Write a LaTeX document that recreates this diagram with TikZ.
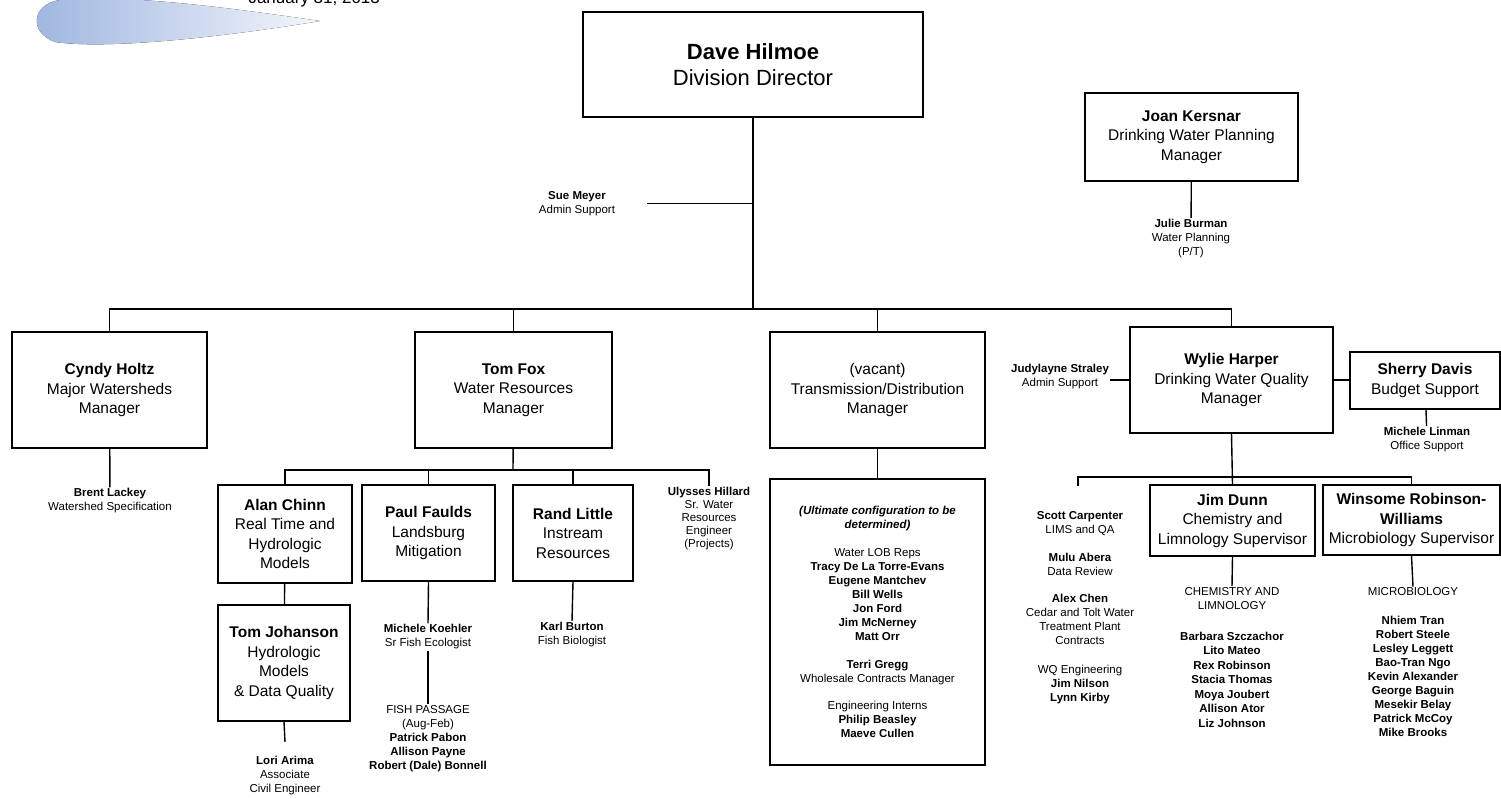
\documentclass[tikz,border=0pt]{standalone}
\usepackage{fontspec}
\setmainfont{Liberation Sans}
\usepackage{tikz}
\definecolor{swooshblue}{HTML}{9DB5DF}
\tikzset{orgbox/.style={draw, line width=1.4pt, align=center, inner sep=0pt, font=\fontsize{15.5}{19.5}\selectfont},
  headbox/.style={orgbox, font=\fontsize{22}{26}\selectfont},
  staff/.style={align=center, inner sep=1pt, font=\fontsize{11.5}{14}\selectfont},
  link/.style={line width=1.4pt}}

\begin{document}
\begin{tikzpicture}[x=1pt, y=-1pt]
    \useasboundingbox (0,0) rectangle (1501,799);
    \fill [left color=swooshblue, right color=swooshblue!12] (320,21) .. controls (230,8) and (130,-6) .. (60,0) .. controls (32,4) and (28,32) .. (55,42) .. controls (110,50) and (230,36) .. (320,21);
    \node [anchor=base west, font=\fontsize{17}{20}\selectfont] (date) at (245,4) {January 31, 2013};
    \node [headbox, minimum width=340, minimum height=105] (dave) at (753,64.5) {\textbf{Dave Hilmoe}\\ Division Director};
    \node [orgbox, minimum width=213, minimum height=88] (joan) at (1191.5,137) {\textbf{Joan Kersnar}\\ Drinking Water Planning\\ Manager};
    \node [staff] (julie) at (1191,238.5) {\textbf{Julie Burman}\\ Water Planning\\ (P/T)};
    \node [staff] (sue) at (577,203.5) {\textbf{Sue Meyer}\\ Admin Support};
    \coordinate (suetick) at (647,203.5);
    \coordinate (mainbus) at (753,309);
    \node [orgbox, minimum width=195, minimum height=116] (cyndy) at (109.5,390) {\textbf{Cyndy Holtz}\\ Major Watersheds\\ Manager};
    \node [orgbox, minimum width=197, minimum height=116] (tomfox) at (513.5,390) {\textbf{Tom Fox}\\ Water Resources\\ Manager};
    \node [orgbox, minimum width=215, minimum height=116] (vacant) at (877.5,390) {(vacant)\\ Transmission/Distribution\\ Manager};
    \node [orgbox, minimum width=203, minimum height=106] (wylie) at (1231.5,380) {\textbf{Wylie Harper}\\ Drinking Water Quality\\ Manager};
    \node [orgbox, minimum width=150, minimum height=57] (sherry) at (1425,380.5) {\textbf{Sherry Davis}\\ Budget Support};
    \node [staff] (judy) at (1060,377) {\textbf{Judylayne Straley}\\ Admin Support};
    \node [staff] (linman) at (1427,439.5) {\textbf{Michele Linman}\\ Office Support};
    \node [staff] (brent) at (110,501) {\textbf{Brent Lackey}\\ Watershed Specification};
    \coordinate (foxbus) at (513,470);
    \node [orgbox, minimum width=134, minimum height=98] (alan) at (285,534) {\textbf{Alan Chinn}\\ Real Time and\\ Hydrologic\\ Models};
    \node [orgbox, minimum width=133, minimum height=96] (paul) at (428.5,533) {\textbf{Paul Faulds}\\ Landsburg\\ Mitigation};
    \node [orgbox, minimum width=120, minimum height=96] (rand) at (573,533) {\textbf{Rand Little}\\ Instream\\ Resources};
    \node [staff, font=\fontsize{11.5}{13}\selectfont] (ulysses) at (709,519) {\textbf{Ulysses Hillard}\\ Sr. Water\\ Resources\\ Engineer\\ (Projects)};
    \node [orgbox, minimum width=132, minimum height=116] (tomj) at (284,663) {\textbf{Tom Johanson}\\ Hydrologic\\ Models\\ \& Data Quality};
    \coordinate (loritick) at (285,742);
    \node [staff] (lori) at (285,776) {\textbf{Lori Arima}\\ Associate\\ Civil Engineer};
    \node [staff] (koehler) at (428,637) {\textbf{Michele Koehler}\\ Sr Fish Ecologist};
    \node [staff] (fish) at (428,738.5) {FISH PASSAGE\\ (Aug-Feb)\\ \textbf{Patrick Pabon}\\ \textbf{Allison Payne}\\ \textbf{Robert (Dale) Bonnell}};
    \node [staff] (karl) at (572,634.5) {\textbf{Karl Burton}\\ Fish Biologist};
    \node [orgbox, staff, draw, line width=1.4pt, minimum width=215, minimum height=286] (vacteam) at (877.5,622) {\textbf{\textit{(Ultimate configuration to be}}\\ \textbf{\textit{determined)}}\\[14pt] Water LOB Reps\\ \textbf{Tracy De La Torre-Evans}\\ \textbf{Eugene Mantchev}\\ \textbf{Bill Wells}\\ \textbf{Jon Ford}\\ \textbf{Jim McNerney}\\ \textbf{Matt Orr}\\[14pt] \textbf{Terri Gregg}\\ Wholesale Contracts Manager\\[13pt] Engineering Interns\\ \textbf{Philip Beasley}\\ \textbf{Maeve Cullen}};
    \coordinate (wqbus) at (1232,477);
    \coordinate (scottstub) at (1078,486);
    \node [staff] (scott) at (1080,608) {\textbf{Scott Carpenter}\\ LIMS and QA\\[14pt] \textbf{Mulu Abera}\\ Data Review\\[13pt] \textbf{Alex Chen}\\ Cedar and Tolt Water\\ Treatment Plant\\ Contracts\\[15pt] WQ Engineering\\ \textbf{Jim Nilson}\\ \textbf{Lynn Kirby}};
    \node [orgbox, minimum width=165, minimum height=71] (jimdunn) at (1232.5,520.5) {\textbf{Jim Dunn}\\ Chemistry and\\ Limnology Supervisor};
    \node [orgbox, minimum width=177, minimum height=70] (winsome) at (1411.5,520) {\textbf{Winsome Robinson-}\\ \textbf{Williams}\\ Microbiology Supervisor};
    \node [staff, font=\fontsize{11.5}{14.5}\selectfont] (chem) at (1232,657.5) {CHEMISTRY AND\\ LIMNOLOGY\\[16pt] \textbf{Barbara Szczachor}\\ \textbf{Lito Mateo}\\ \textbf{Rex Robinson}\\ \textbf{Stacia Thomas}\\ \textbf{Moya Joubert}\\ \textbf{Allison Ator}\\ \textbf{Liz Johnson}};
    \node [staff] (micro) at (1413,662.5) {MICROBIOLOGY\\[15pt] \textbf{Nhiem Tran}\\ \textbf{Robert Steele}\\ \textbf{Lesley Leggett}\\ \textbf{Bao-Tran Ngo}\\ \textbf{Kevin Alexander}\\ \textbf{George Baguin}\\ \textbf{Mesekir Belay}\\ \textbf{Patrick McCoy}\\ \textbf{Mike Brooks}};
    \draw [link] (dave) -- (mainbus);
    \draw [link] (suetick) -- (suetick -| mainbus);
    \draw [link] (joan) -- (julie);
    \draw [link] (cyndy.north) |- (mainbus) -| (wylie.north);
    \draw [link] (tomfox.north) -- (tomfox.north |- mainbus);
    \draw [link] (vacant.north) -- (vacant.north |- mainbus);
    \draw [link] (wylie.west) -- (wylie.west -| judy.east);
    \draw [link] (wylie.east) -- (wylie.east -| sherry.west);
    \draw [link] (sherry) -- (linman);
    \draw [link] (cyndy) -- (brent);
    \draw [link] (tomfox) -- (foxbus);
    \draw [link] (alan.north) |- (foxbus) -| (ulysses.north);
    \draw [link] (paul.north) -- (paul.north |- foxbus);
    \draw [link] (rand.north) -- (rand.north |- foxbus);
    \draw [link] (alan) -- (tomj);
    \draw [link] (tomj.south) -- (loritick);
    \draw [link] (paul.south) -- (koehler.north);
    \draw [link] (koehler) -- (fish);
    \draw [link] (rand.south) -- (karl.north);
    \draw [link] (vacant) -- (vacteam);
    \draw [link] (wylie.south) -- (jimdunn.north);
    \draw [link] (scottstub) |- (wqbus) -| (winsome.north);
    \draw [link] (jimdunn.south) -- (chem.north);
    \draw [link] (winsome.south) -- (micro.north);
\end{tikzpicture}
\end{document}
